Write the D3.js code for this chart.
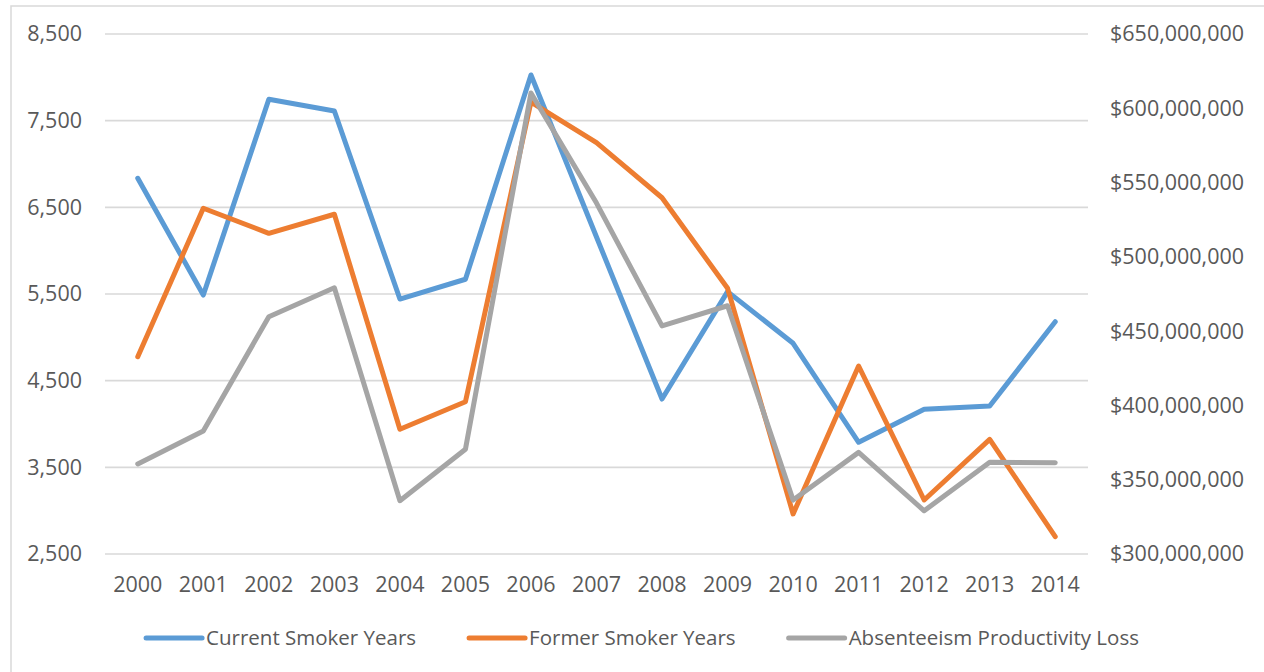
<!DOCTYPE html>
<html>
<head>
<meta charset="utf-8">
<script src="https://cdn.jsdelivr.net/npm/d3@7"></script>
<style>
  html, body { margin: 0; padding: 0; background: #fff; }
  svg { display: block; }
  text { font-family: "Open Sans", "Noto Sans", sans-serif; fill: #595959; }
</style>
</head>
<body>
<svg id="chart" width="1264" height="672"></svg>
<script>
// Years on the category axis
const years = ["2000","2001","2002","2003","2004","2005","2006","2007","2008","2009","2010","2011","2012","2013","2014"];

// Primary axis series (years)
const currentSmokerYears = [6835, 5488, 7747, 7612, 5442, 5670, 8027, 6158, 4288, 5527, 4931, 3789, 4170, 4208, 5180];
const formerSmokerYears  = [4777, 6489, 6200, 6420, 3939, 4257, 7715, 7246, 6611, 5566, 2962, 4669, 3123, 3823, 2700];

// Secondary axis series (dollars)
const absenteeismLoss = [360.6e6, 382.8e6, 459.7e6, 479.2e6, 335.9e6, 370.5e6, 610.3e6, 536.2e6, 453.5e6, 467.1e6, 336.3e6, 368.4e6, 329.1e6, 361.7e6, 361.5e6];

// Axis tick values
const leftTicks  = [2500, 3500, 4500, 5500, 6500, 7500, 8500];
const rightTicks = [300e6, 350e6, 400e6, 450e6, 500e6, 550e6, 600e6, 650e6];

const seriesNames  = ["Current Smoker Years", "Former Smoker Years", "Absenteeism Productivity Loss"];
const seriesColors = ["#5B9BD5", "#ED7D31", "#A5A5A5"];

const svg = d3.select("#chart");
const plot = { left: 105, right: 1088, top: 34, bottom: 554 };

// Chart frame
svg.append("rect")
  .attr("x", 11).attr("y", 6)
  .attr("width", 1300).attr("height", 700)
  .attr("fill", "none").attr("stroke", "#D9D9D9").attr("stroke-width", 1.5);

const x = d3.scaleBand().domain(years).range([plot.left, plot.right]);
const yL = d3.scaleLinear().domain([2500, 8500]).range([plot.bottom, plot.top]);
const yR = d3.scaleLinear().domain([300e6, 650e6]).range([plot.bottom, plot.top]);

// Horizontal gridlines (primary axis)
svg.append("g")
  .selectAll("line")
  .data(leftTicks)
  .join("line")
  .attr("x1", plot.left).attr("x2", plot.right)
  .attr("y1", d => yL(d)).attr("y2", d => yL(d))
  .attr("stroke", "#D9D9D9").attr("stroke-width", 1.6);

const fontSize = 21.5;
const legendFontSize = 20.5;

// Left axis
const leftAxis = svg.append("g")
  .attr("transform", `translate(${plot.left - 23},0)`)
  .call(d3.axisLeft(yL).tickValues(leftTicks).tickFormat(d3.format(",")).tickSize(0).tickPadding(0));
leftAxis.select(".domain").remove();
leftAxis.selectAll("text").attr("font-size", fontSize).attr("font-family", null);

// Right axis
const rightAxis = svg.append("g")
  .attr("transform", `translate(${plot.right + 22},0)`)
  .call(d3.axisRight(yR).tickValues(rightTicks).tickFormat(d => "$" + d3.format(",")(d)).tickSize(0).tickPadding(0));
rightAxis.select(".domain").remove();
rightAxis.selectAll("text").attr("font-size", fontSize).attr("font-family", null);

// Bottom axis
const bottomAxis = svg.append("g")
  .attr("transform", `translate(0,${plot.bottom + 23})`)
  .call(d3.axisBottom(x).tickSize(0).tickPadding(0));
bottomAxis.select(".domain").remove();
bottomAxis.selectAll("text").attr("font-size", fontSize).attr("font-family", null);

svg.selectAll(".tick text").attr("fill", "#595959");

// Lines
const cx = d => x(d) + x.bandwidth() / 2;
const lineL = d3.line().x((d, i) => cx(years[i])).y(d => yL(d));
const lineR = d3.line().x((d, i) => cx(years[i])).y(d => yR(d));

const drawn = [
  { data: currentSmokerYears, gen: lineL, color: seriesColors[0] },
  { data: formerSmokerYears,  gen: lineL, color: seriesColors[1] },
  { data: absenteeismLoss,    gen: lineR, color: seriesColors[2] }
];
svg.append("g")
  .selectAll("path")
  .data(drawn)
  .join("path")
  .attr("d", s => s.gen(s.data))
  .attr("fill", "none")
  .attr("stroke", s => s.color)
  .attr("stroke-width", 5)
  .attr("stroke-linejoin", "round")
  .attr("stroke-linecap", "round");

// Legend
const legend = svg.append("g");
const legendY = 638;
const swatch = 56, swatchGap = 4, itemGap = 53;
const items = legend.selectAll("g")
  .data(seriesNames)
  .join("g");
items.append("line")
  .attr("x1", 0).attr("x2", swatch)
  .attr("y1", legendY).attr("y2", legendY)
  .attr("stroke", (d, i) => seriesColors[i])
  .attr("stroke-width", 5)
  .attr("stroke-linecap", "round");
items.append("text")
  .attr("x", swatch + swatchGap)
  .attr("y", legendY)
  .attr("dy", "0.35em")
  .attr("font-size", legendFontSize)
  .text(d => d);

const widths = [];
items.each(function() {
  const w = swatch + swatchGap + d3.select(this).select("text").node().getComputedTextLength();
  widths.push(w);
});
const total = d3.sum(widths) + itemGap * (widths.length - 1);
let start = 642.5 - total / 2;
items.attr("transform", (d, i) => {
  const t = `translate(${start},0)`;
  start += widths[i] + itemGap;
  return t;
});
</script>
</body>
</html>
